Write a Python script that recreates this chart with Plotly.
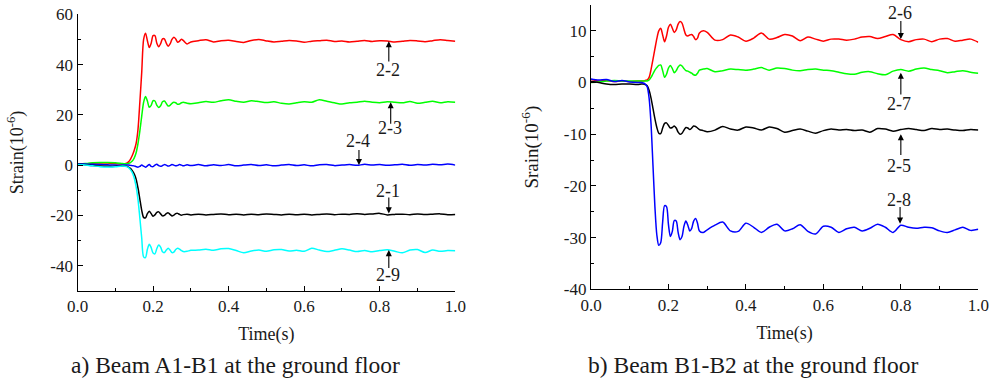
import plotly.graph_objects as go

# ---------------- data ----------------
time_s = [0.00, 0.02, 0.04, 0.06, 0.08, 0.10, 0.12,
          0.130, 0.135, 0.140, 0.145, 0.150, 0.155, 0.160, 0.165, 0.170, 0.175,
          0.180, 0.185, 0.190, 0.195, 0.200, 0.205, 0.210, 0.215, 0.220, 0.225,
          0.230, 0.235, 0.240, 0.245, 0.250, 0.255, 0.260, 0.265, 0.270, 0.275, 0.280,
          0.29, 0.30,
          0.32, 0.34, 0.36, 0.38, 0.40, 0.42, 0.44, 0.46, 0.48, 0.50, 0.52, 0.54,
          0.56, 0.58, 0.60, 0.62, 0.64, 0.66, 0.68, 0.70, 0.72, 0.74, 0.76, 0.78,
          0.80, 0.82, 0.84, 0.86, 0.88, 0.90, 0.92, 0.94, 0.96, 0.98, 1.00]

# Panel a) Beam A1-B1
s2_2 = [0.3, 0.5, 0.7, 0.8, 0.8, 0.6, 0.5,
        0.8, 1.3, 2.3, 3.8, 5.8, 8.5, 14.0, 25.0, 37.0, 50.0,
        52.5, 49.5, 46.8, 48.5, 51.5, 51.5, 48.5, 47.1, 48.3, 50.2,
        50.2, 48.5, 47.3, 48.2, 50.0, 50.9, 50.2, 48.9, 49.3, 50.1, 49.6,
        48.2, 49.0,
        49.5, 49.9, 49.0, 49.5, 49.7, 49.2, 48.8, 49.6, 50.0, 49.4, 49.0, 49.3,
        49.6, 49.4, 48.9, 49.3, 49.5, 49.7, 49.2, 49.4, 49.0, 49.3, 49.6, 49.2,
        49.5, 49.4, 49.0, 49.3, 49.6, 49.4, 49.1, 49.5, 49.9, 49.6, 49.3]
s2_3 = [0.3, 0.6, 0.9, 1.0, 1.0, 0.9, 0.6,
        0.5, 0.7, 1.0, 1.6, 2.8, 4.8, 8.5, 13.5, 19.5, 25.0,
        27.3, 25.5, 23.0, 23.8, 25.6, 25.5, 23.8, 22.9, 23.6, 25.2,
        25.5, 24.5, 23.5, 23.8, 24.6, 25.0, 24.8, 24.2, 24.3, 24.8, 25.0,
        24.6, 24.4,
        24.8, 25.3, 25.0, 25.6, 26.0, 25.4, 25.0, 25.6, 25.3, 24.9, 25.2, 24.6,
        24.3, 24.8, 25.2, 25.0, 26.0, 25.4, 24.8, 24.3, 24.8, 25.0, 25.4, 25.0,
        24.8, 25.2, 25.0, 24.8, 25.3, 24.6, 25.0, 25.4, 24.8, 25.2, 25.0]
s2_4 = [0.5, 0.4, 0.3, 0.2, 0.1, 0.0, 0.0,
        0.0, 0.0, -0.1, -0.2, -0.3, -0.6, -0.8, -0.5, 0.0, -0.4,
        -0.8, -0.3, 0.2, -0.5, -0.6, 0.0, 0.3, -0.2, -0.5, -0.2,
        0.2, 0.0, -0.4, -0.2, 0.2, 0.0, -0.3, -0.1, 0.2, 0.0, -0.3,
        0.1, -0.2,
        0.2, -0.3, 0.1, -0.2, 0.2, -0.3, 0.0, 0.2, -0.2, 0.1, -0.3, 0.0,
        0.2, -0.2, 0.1, -0.3, 0.1, 0.2, -0.2, 0.0, 0.2, -0.1, 0.3, 0.0,
        0.2, -0.1, 0.1, 0.3, -0.1, 0.2, 0.0, 0.3, 0.1, 0.4, 0.0]
s2_1 = [0.3, 0.1, -0.2, -0.4, -0.5, -0.5, -0.3,
        -0.5, -0.8, -1.3, -2.2, -3.5, -5.5, -9.0, -13.5, -18.0, -20.8,
        -21.0, -19.3, -18.4, -19.3, -20.3, -19.8, -18.8, -18.6, -19.4, -20.2,
        -20.0, -19.3, -19.0, -19.6, -20.2, -19.9, -19.3, -19.2, -19.6, -19.9, -19.7,
        -19.5, -19.8,
        -19.5, -19.8, -19.6, -19.4, -19.7, -19.5, -19.8, -19.5, -19.7, -19.4, -19.6, -19.8,
        -19.5, -19.7, -19.5, -19.8, -19.6, -19.4, -19.7, -19.5, -19.6, -19.3, -19.6, -19.4,
        -19.2, -19.8, -19.6, -19.5, -19.7, -19.4, -19.6, -19.5, -19.4, -19.7, -19.6]
s2_9 = [0.2, 0.0, -0.3, -0.6, -0.7, -0.6, -0.4,
        -0.6, -1.0, -1.8, -3.0, -5.0, -8.5, -13.5, -21.0, -29.0, -36.5,
        -36.8, -33.5, -31.5, -32.8, -35.0, -35.3, -33.2, -31.8, -32.6, -34.5,
        -34.8, -33.8, -33.1, -33.8, -34.8, -34.6, -33.6, -33.1, -33.4, -34.0, -34.4,
        -34.3, -33.9,
        -33.8, -33.5, -33.9, -33.3, -33.2, -34.0, -34.9, -34.2, -33.8, -34.3, -33.7, -33.6,
        -34.2, -33.9, -34.3, -33.1, -33.8, -34.4, -33.9, -33.3, -33.8, -34.4, -34.0, -34.5,
        -34.0, -33.7, -34.3, -34.9, -33.8, -33.6, -34.8, -33.8, -34.3, -34.0, -34.1]

# Panel b) Beam B1-B2
s2_6 = [0.6, 0.3, 0.4, 0.2, 0.3, 0.2, 0.3,
        0.3, 0.3, 0.4, 0.5, 1.0, 2.5, 4.5, 6.5, 8.5, 10.0,
        10.5, 9.2, 7.9, 9.0, 10.7, 11.3, 10.5, 9.7, 10.2, 11.3,
        11.8, 11.5, 10.3, 9.2, 9.0, 9.2, 9.3, 8.9, 8.3, 8.6, 9.6,
        10.0, 9.7,
        8.2, 8.3, 9.2, 8.8, 8.0, 8.6, 9.6, 8.4, 8.7, 9.3, 9.0, 8.1,
        8.8, 8.4, 8.0, 8.4, 8.4, 8.2, 8.4, 8.8, 8.9, 8.5, 8.9, 9.3,
        8.3, 7.9, 8.3, 8.4, 7.9, 8.4, 8.5, 8.0, 8.2, 8.4, 7.8]
s2_7 = [0.0, 0.1, 0.3, 0.4, 0.3, 0.3, 0.3,
        0.3, 0.3, 0.3, 0.3, 0.5, 1.0, 1.7, 2.4, 2.9, 3.3,
        3.4, 2.3, 1.0, 1.6, 2.8, 3.3, 2.7, 1.9, 2.3, 3.0,
        3.4, 3.2, 2.7, 2.3, 2.2, 2.0, 1.8, 1.5, 1.4, 1.8, 2.4,
        2.6, 2.7,
        2.1, 2.3, 2.6, 2.5, 2.4, 2.6, 2.9, 2.4, 2.8, 2.7, 2.4, 2.3,
        2.5, 2.6, 2.4, 2.3, 2.0, 1.7, 1.6, 2.0, 2.1, 1.7, 1.5, 2.2,
        2.5, 2.2, 2.6, 2.8, 2.5, 2.3, 1.9, 2.1, 2.3, 2.0, 1.8]
s2_5 = [0.2, 0.0, -0.3, -0.4, -0.3, -0.3, -0.4,
        -0.3, -0.3, -0.4, -0.6, -1.5, -3.0, -5.0, -7.0, -8.7, -9.8,
        -9.9, -8.8, -7.9, -7.8, -8.3, -8.8, -8.7, -8.4, -8.8, -9.6,
        -10.0, -9.8, -9.2, -8.7, -8.8, -9.1, -8.8, -8.4, -8.5, -8.8, -9.1,
        -9.3, -9.5,
        -9.2, -8.5, -9.0, -9.2, -8.6, -8.8, -9.2, -8.6, -8.9, -9.6, -9.3, -9.0,
        -9.4, -9.8, -9.3, -9.0, -9.2, -9.1, -9.3, -9.2, -9.6, -8.9, -9.0, -9.4,
        -9.1, -8.9, -9.1, -9.3, -8.9, -9.1, -9.0, -9.2, -9.3, -9.1, -9.2]
s2_8 = [0.7, 0.5, 0.6, 0.2, 0.4, 0.1, 0.0,
        0.0, -0.1, -0.3, -0.8, -3.0, -8.0, -16.0, -24.0, -29.5, -31.5,
        -31.0, -27.0, -23.8, -24.0, -27.5, -29.8, -28.8, -26.7, -26.8, -29.0,
        -30.4, -29.8, -27.8, -26.8, -27.6, -28.7, -28.2, -26.8, -26.3, -27.2, -28.7,
        -29.0, -28.5,
        -27.6, -27.0, -28.7, -28.8, -27.2, -28.0, -29.0, -28.0, -27.4, -28.7, -28.3, -27.5,
        -28.8, -29.3, -27.8, -28.0, -29.0, -28.3, -28.0, -28.7, -28.2, -27.4, -28.0, -29.0,
        -27.6, -28.0, -28.2, -28.0, -28.1, -28.7, -29.0, -28.5, -28.0, -28.6, -28.4]

x_ticks = [0.0, 0.2, 0.4, 0.6, 0.8, 1.0]
x_tick_labels = ["0.0", "0.2", "0.4", "0.6", "0.8", "1.0"]
ya_ticks = [-40, -20, 0, 20, 40, 60]
ya_tick_labels = ["-40", "-20", "0", "20", "40", "60"]
yb_ticks = [-40, -30, -20, -10, 0, 10]
yb_tick_labels = ["-40", "-30", "-20", "-10", "0", "10"]

# gauge label: (text, text t, text value, arrow t, arrow tip value, arrow tail value)
labels_a = [("2-2", 0.822, 37.8, 0.824, 49.3, 40.6),
            ("2-3", 0.827, 14.6, 0.829, 25.0, 15.9),
            ("2-4", 0.743, 9.5, 0.745, 0.0, 6.6),
            ("2-1", 0.821, -10.1, 0.824, -19.2, -12.3),
            ("2-9", 0.822, -43.9, 0.824, -33.8, -41.5)]
labels_b = [("2-6", 0.797, 13.4, 0.800, 8.4, 12.2),
            ("2-7", 0.796, -4.2, 0.800, 1.9, -2.6),
            ("2-5", 0.796, -16.1, 0.800, -10.0, -14.3),
            ("2-8", 0.795, -22.8, 0.798, -27.3, -23.8)]

# ---------------- figure ----------------
FONT = "Liberation Serif"
TXT = "#1a1a1a"
W, H = 1001, 382
fig = go.Figure()

series_a = [(s2_2, "#ff0000"), (s2_3, "#00ff00"), (s2_4, "#0000ff"),
            (s2_1, "#000000"), (s2_9, "#00ffff")]
series_b = [(s2_6, "#ff0000"), (s2_7, "#00ff00"), (s2_5, "#000000"),
            (s2_8, "#0000ff")]

for vals, col in series_a:
    fig.add_trace(go.Scatter(x=time_s, y=vals, mode="lines",
                             line=dict(color=col, width=1.5, shape="spline", smoothing=0.8),
                             xaxis="x", yaxis="y", showlegend=False, hoverinfo="skip"))
for vals, col in series_b:
    fig.add_trace(go.Scatter(x=time_s, y=vals, mode="lines",
                             line=dict(color=col, width=1.5, shape="spline", smoothing=0.8),
                             xaxis="x2", yaxis="y2", showlegend=False, hoverinfo="skip"))

axis_common = dict(showline=True, linecolor="black", linewidth=1.2, mirror=False,
                   ticks="inside", ticklen=5, tickwidth=1.2, tickcolor="black",
                   showgrid=False, zeroline=False, automargin=False,
                   tickfont=dict(family=FONT, size=17, color=TXT))

fig.update_layout(
    template="none",
    width=W, height=H,
    margin=dict(l=0, r=0, t=0, b=0, pad=0),
    paper_bgcolor="white", plot_bgcolor="white",
    font=dict(family=FONT, color=TXT),
    xaxis=dict(domain=[77.5 / W, 455.3 / W], range=[0, 1], tickvals=x_ticks,
               ticktext=x_tick_labels, anchor="y",
               minor=dict(ticks="inside", ticklen=3, dtick=0.1, tickcolor="black"),
               title=dict(text="Time(s)", font=dict(family=FONT, size=18, color=TXT),
                          standoff=12),
               **axis_common),
    yaxis=dict(domain=[1 - 290.8 / H, 1 - 14.3 / H], range=[-50, 60], tickvals=ya_ticks,
               ticktext=ya_tick_labels, anchor="x",
               minor=dict(ticks="inside", ticklen=3, dtick=10, tickcolor="black"),
               title=dict(text="Strain(10<sup>-6</sup>)",
                          font=dict(family=FONT, size=18, color=TXT), standoff=22),
               **axis_common),
    xaxis2=dict(domain=[591 / W, 978.3 / W], range=[0, 1], tickvals=x_ticks,
                ticktext=x_tick_labels, anchor="y2",
                minor=dict(ticks="inside", ticklen=3, dtick=0.1, tickcolor="black"),
                title=dict(text="Time(s)", font=dict(family=FONT, size=18, color=TXT),
                           standoff=12),
                **axis_common),
    yaxis2=dict(domain=[1 - 289.3 / H, 1 - 5 / H], range=[-40, 15], tickvals=yb_ticks,
                ticktext=yb_tick_labels, anchor="x2",
                minor=dict(ticks="inside", ticklen=3, dtick=5, tickcolor="black"),
                title=dict(text="Srain(10<sup>-6</sup>)",
                           font=dict(family=FONT, size=19, color=TXT), standoff=20),
                **axis_common),
)

annotations = []
for labels, xr, yr in ((labels_a, "x", "y"), (labels_b, "x2", "y2")):
    for lab, tx, tv, arx, tip, tail in labels:
        annotations.append(dict(x=tx, y=tv, xref=xr, yref=yr, text=lab,
                                showarrow=False, xanchor="center", yanchor="middle",
                                font=dict(family=FONT, size=18, color=TXT)))
        annotations.append(dict(x=arx, y=tip, xref=xr, yref=yr, ax=arx, ay=tail,
                                axref=xr, ayref=yr, text="", showarrow=True,
                                arrowhead=2, arrowsize=1.1, arrowwidth=1.1,
                                arrowcolor="black"))

annotations.append(dict(x=235.5 / W, y=1 - 364.5 / H, xref="paper", yref="paper",
                        text="a) Beam A1-B1 at the ground floor", showarrow=False,
                        xanchor="center", yanchor="middle",
                        font=dict(family=FONT, size=23.5, color=TXT)))
annotations.append(dict(x=753 / W, y=1 - 364.5 / H, xref="paper", yref="paper",
                        text="b) Beam B1-B2 at the ground floor", showarrow=False,
                        xanchor="center", yanchor="middle",
                        font=dict(family=FONT, size=23.5, color=TXT)))
fig.update_layout(annotations=annotations)

fig.write_html("out.html", config={"displayModeBar": False},
               post_script="document.body.style.margin='0';"
                           "document.body.style.overflow='hidden';")
